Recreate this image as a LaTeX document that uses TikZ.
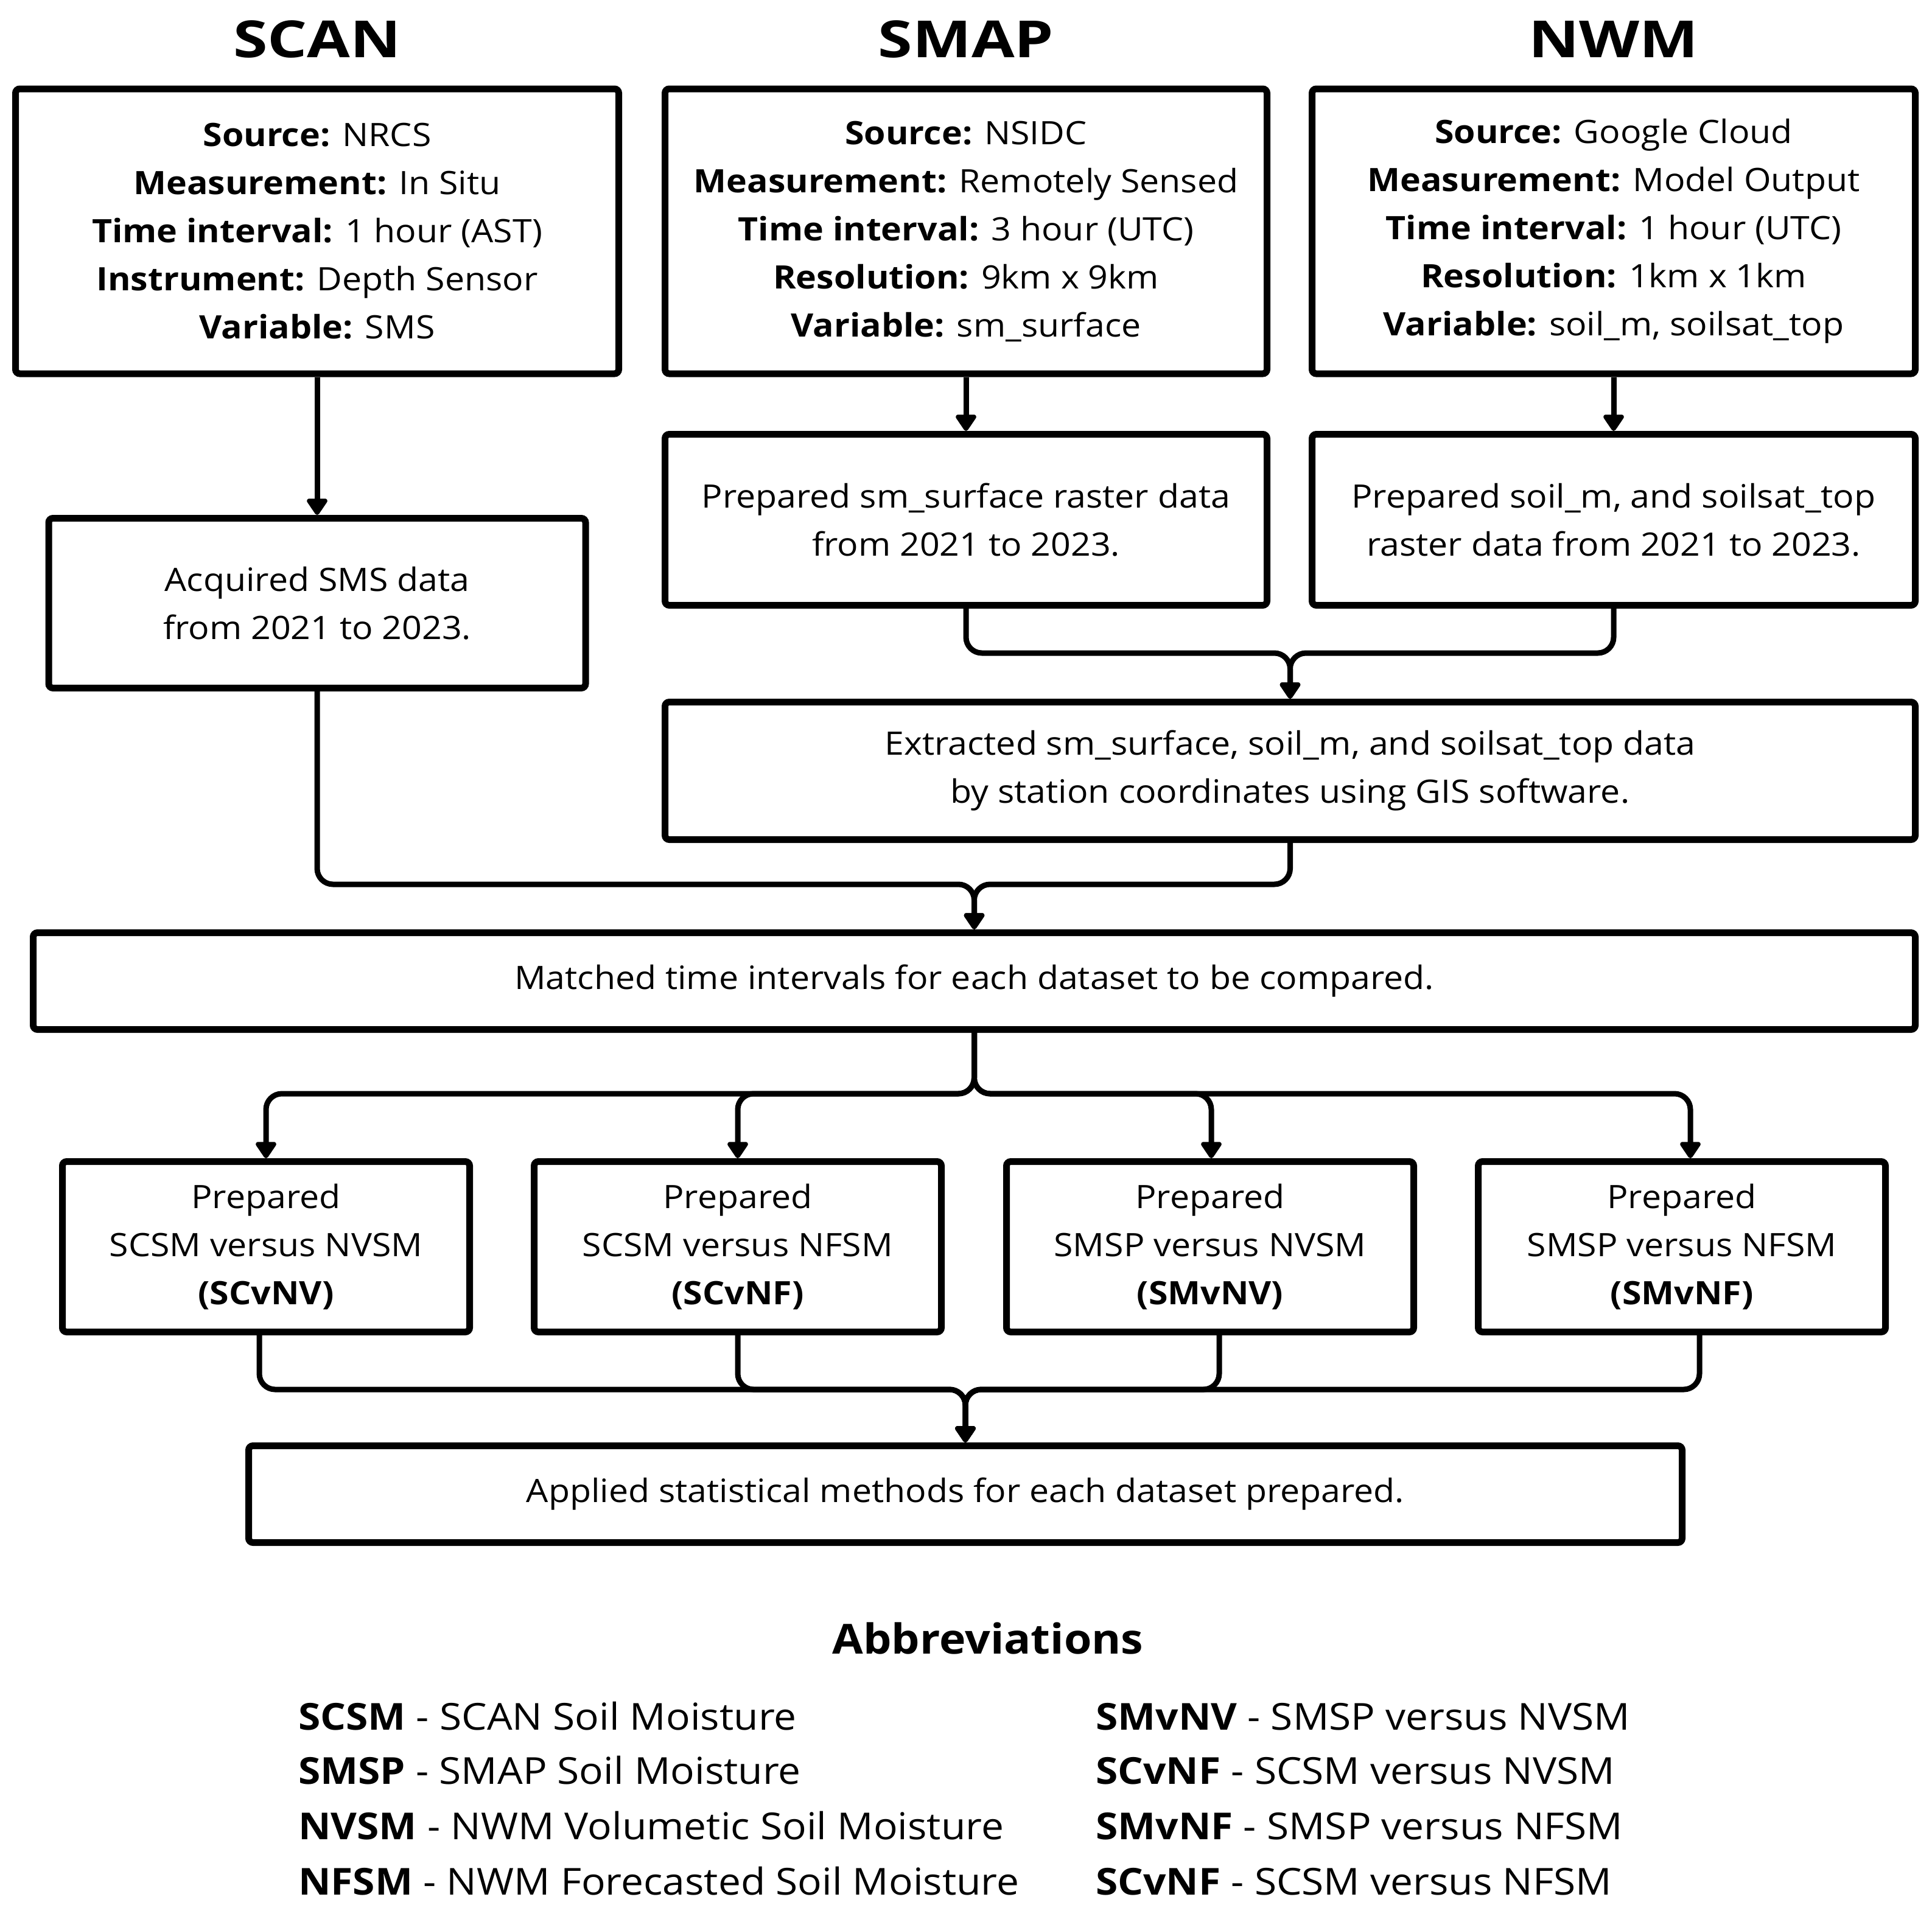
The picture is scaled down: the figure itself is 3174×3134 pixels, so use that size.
\documentclass[tikz,border=0pt]{standalone}
\usepackage{fontspec}
\setmainfont[FakeStretch=1.08]{Open Sans}
\newfontfamily\titlefam[FakeStretch=1.22]{Open Sans}
\usetikzlibrary{arrows.meta}
\newcommand\myBody{\fontsize{53}{79}\selectfont}
\newcommand\myTitle{\titlefam\fontsize{84}{90}\selectfont\bfseries}
\newcommand\myAbbrTitle{\fontsize{68}{80}\selectfont\bfseries}
\newcommand\myAbbr{\fontsize{61}{90}\selectfont}
\begin{document}
\begin{tikzpicture}[x=1pt,y=-1pt,
  box/.style={draw, line width=11pt, rounded corners=7pt, align=center, inner sep=0pt, font=\myBody},
  conn/.style={line width=9pt, rounded corners=26pt},
  arr/.style={conn, -{Triangle[width=38pt,length=30pt,round]}},
  ttl/.style={font=\myTitle, anchor=base, inner sep=0pt},
  abbr/.style={font=\myAbbr, anchor=base west, inner sep=0pt}
]
\useasboundingbox (0,0) rectangle (3174,3134);

% titles
\node[ttl] (tSCAN) at (521,94) {SCAN};
\node[ttl] (tSMAP) at (1587,94) {SMAP};
\node[ttl] (tNWM) at (2651,94) {NWM};

% info boxes
\node[box, minimum width=991pt, minimum height=468pt] (i1) at (521,380)
  {\textbf{Source:} NRCS\\\textbf{Measurement:} In Situ\\\textbf{Time interval:} 1 hour (AST)\\\textbf{Instrument:} Depth Sensor\\\textbf{Variable:} SMS};
\node[box, minimum width=989pt, minimum height=468pt] (i2) at (1587,380)
  {\textbf{Source:} NSIDC\\\textbf{Measurement:} Remotely Sensed\\\textbf{Time interval:} 3 hour (UTC)\\\textbf{Resolution:} 9km x 9km\\\textbf{Variable:} sm\_surface};
\node[box, minimum width=991pt, minimum height=468pt] (i3) at (2651,380)
  {\textbf{Source:} Google Cloud\\\textbf{Measurement:} Model Output\\\textbf{Time interval:} 1 hour (UTC)\\\textbf{Resolution:} 1km x 1km\\\textbf{Variable:} soil\_m, soilsat\_top};

% second row
\node[box, minimum width=882pt, minimum height=279pt] (acq) at (521,991)
  {Acquired SMS data\\from 2021 to 2023.};
\node[box, minimum width=989pt, minimum height=281pt] (p2) at (1587,854)
  {Prepared sm\_surface raster data\\from 2021 to 2023.};
\node[box, minimum width=991pt, minimum height=281pt] (p3) at (2651,854)
  {Prepared soil\_m, and soilsat\_top\\raster data from 2021 to 2023.};

\node[box, minimum width=2054pt, minimum height=226pt] (ext) at (2119.5,1266.5)
  {Extracted sm\_surface, soil\_m, and soilsat\_top data\\by station coordinates using GIS software.};

\node[box, minimum width=3092pt, minimum height=159pt] (match) at (1600.5,1612)
  {Matched time intervals for each dataset to be compared.};

% comparison boxes
\node[box, minimum width=669pt, minimum height=280pt] (c1) at (437,2048.5)
  {Prepared\\SCSM versus NVSM\\\textbf{(SCvNV)}};
\node[box, minimum width=669pt, minimum height=280pt] (c2) at (1212,2048.5)
  {Prepared\\SCSM versus NFSM\\\textbf{(SCvNF)}};
\node[box, minimum width=669pt, minimum height=280pt] (c3) at (1988,2048.5)
  {Prepared\\SMSP versus NVSM\\\textbf{(SMvNV)}};
\node[box, minimum width=669pt, minimum height=280pt] (c4) at (2763,2048.5)
  {Prepared\\SMSP versus NFSM\\\textbf{(SMvNF)}};

\node[box, minimum width=2355pt, minimum height=159pt] (app) at (1586,2455)
  {Applied statistical methods for each dataset prepared.};

% connectors
\draw[arr] (i1.south) -- (acq.north);
\draw[arr] (i2.south) -- (p2.north);
\draw[arr] (i3.south) -- (p3.north);

\coordinate (j1) at (2119.5,1073);
\draw[arr] (p2.south) |- (j1) -- (ext.north);
\draw[arr] (p3.south) |- (j1) -- (ext.north);

\coordinate (j2) at (1600.5,1453);
\draw[arr] (acq.south) |- (j2) -- (match.north);
\draw[arr] (ext.south) |- (j2) -- (match.north);

\coordinate (j3) at (1600.5,1797);
\draw[arr] (match.south) -- (j3) -| (c1.north);
\draw[arr] (match.south) -- (j3) -| (c2.north);
\draw[arr] (match.south) -- (j3) -| ([xshift=2pt]c3.north);
\draw[arr] (match.south) -- (j3) -| ([xshift=14pt]c4.north);

\coordinate (j4) at (1586,2283);
\draw[arr] ([xshift=-11pt]c1.south) |- (j4) -- (app.north);
\draw[arr] (c2.south) |- (j4) -- (app.north);
\draw[arr] ([xshift=15pt]c3.south) |- (j4) -- (app.north);
\draw[arr] ([xshift=29pt]c4.south) |- (j4) -- (app.north);

% abbreviations
\node[font=\myAbbrTitle, anchor=base, inner sep=0pt] (abt) at (1623,2717) {Abbreviations};
\node[abbr] (a1) at (490,2842) {\textbf{SCSM} - SCAN Soil Moisture};
\node[abbr] (a2) at (490,2931) {\textbf{SMSP} - SMAP Soil Moisture};
\node[abbr] (a3) at (490,3022) {\textbf{NVSM} - NWM Volumetic Soil Moisture};
\node[abbr] (a4) at (490,3113) {\textbf{NFSM} - NWM Forecasted Soil Moisture};
\node[abbr] (b1) at (1800,2842) {\textbf{SMvNV} - SMSP versus NVSM};
\node[abbr] (b2) at (1800,2931) {\textbf{SCvNF} - SCSM versus NVSM};
\node[abbr] (b3) at (1800,3022) {\textbf{SMvNF} - SMSP versus NFSM};
\node[abbr] (b4) at (1800,3113) {\textbf{SCvNF} - SCSM versus NFSM};
\end{tikzpicture}
\end{document}
